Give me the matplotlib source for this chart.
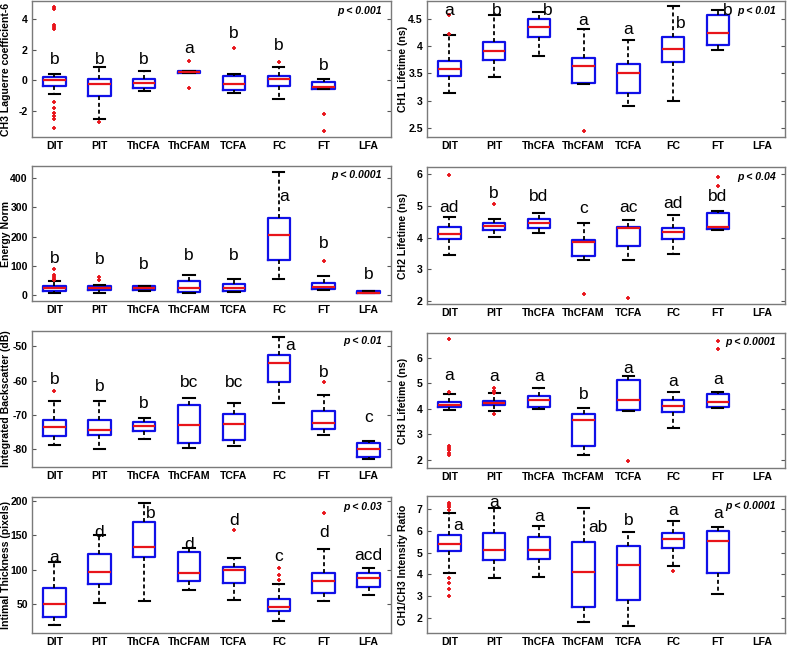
import matplotlib
matplotlib.use("Agg")
import matplotlib.pyplot as plt

plt.rcParams['font.family'] = ['Liberation Sans', 'DejaVu Sans']

categories = ["DIT", "PIT", "ThCFA", "ThCFAM", "TCFA", "FC", "FT", "LFA"]

# ---- Panel 1: CH3 Laguerre coefficient-6 ----
p1_label = "CH3 Laguerre coefficient-6"
p1_p = "p < 0.001"
p1_q1 = [-0.35, -1.0, -0.5, 0.47, -0.65, -0.35, -0.55, None]
p1_med = [0.0, -0.25, -0.15, 0.55, -0.2, 0.1, -0.45, None]
p1_q3 = [0.25, 0.1, 0.1, 0.6, 0.3, 0.3, -0.1, None]
p1_lo = [-0.9, -2.5, -0.7, 0.47, -0.8, -1.2, -0.55, None]
p1_hi = [0.4, 0.85, 0.6, 0.6, 0.45, 0.85, 0.1, None]
p1_fliers = [[4.8, 4.65, 3.6, 3.5, 3.4, -1.4, -1.8, -2.1, -2.35, -2.55, -3.1],
             [-2.7], [], [1.25, -0.5], [2.1], [1.2], [-2.2, -3.3], []]
p1_letters = ["b", "b", "b", "a", "b", "b", "b", ""]
p1_letter_y = [1.4, 1.4, 1.4, 2.1, 3.05, 2.3, 1.0, 0]
p1_letter_dx = [0, 0, 0, 0, 0, 0, 0, 0]
p1_ylim = (-3.7, 5.2)
p1_ticks = [-2, 0, 2, 4]

# ---- Panel 2: CH1 Lifetime (ns) ----
p2_label = "CH1 Lifetime (ns)"
p2_p = "p < 0.01"
p2_q1 = [3.445, 3.75, 4.16, 3.33, 3.14, 3.7, 4.02, None]
p2_med = [3.58, 3.92, 4.36, 3.64, 3.5, 3.95, 4.25, None]
p2_q3 = [3.73, 4.08, 4.49, 3.79, 3.67, 4.17, 4.57, None]
p2_lo = [3.13, 3.44, 3.81, 3.3, 2.9, 3.0, 3.93, None]
p2_hi = [4.2, 4.58, 4.62, 4.31, 4.11, 4.73, 4.67, None]
p2_fliers = [[4.23, 4.57], [], [], [2.44], [], [], [], []]
p2_letters = ["a", "b", "b", "a", "a", "b", "b", ""]
p2_letter_y = [4.66, 4.66, 4.66, 4.48, 4.31, 4.42, 4.66, 0]
p2_letter_dx = [0, 0.05, 0.2, 0, 0, 0.18, 0.22, 0]
p2_ylim = (2.33, 4.83)
p2_ticks = [2.5, 3, 3.5, 4, 4.5]

# ---- Panel 3: Energy Norm ----
p3_label = "Energy Norm"
p3_p = "p < 0.0001"
p3_q1 = [15, 16, 17, 10, 13, 120, 21, 6]
p3_med = [25, 23, 24, 25, 26, 207, 29, 9]
p3_q3 = [32, 31, 30, 49, 37, 263, 40, 13]
p3_lo = [9, 8, 15, 8, 10, 55, 17, 6]
p3_hi = [48, 35, 33, 70, 55, 423, 66, 14]
p3_fliers = [[89, 70, 62, 57, 53], [63, 52], [], [], [], [], [118], []]
p3_letters = ["b", "b", "b", "b", "b", "a", "b", "b"]
p3_letter_y = [126, 122, 105, 137, 137, 337, 177, 69]
p3_letter_dx = [0, 0, 0, 0, 0, 0.11, 0, 0]
p3_ylim = (-20, 442)
p3_ticks = [0, 100, 200, 300, 400]

# ---- Panel 4: CH2 Lifetime (ns) ----
p4_label = "CH2 Lifetime (ns)"
p4_p = "p < 0.04"
p4_q1 = [3.95, 4.24, 4.29, 3.42, 3.73, 3.96, 4.27, None]
p4_med = [4.11, 4.35, 4.45, 3.87, 4.29, 4.19, 4.34, None]
p4_q3 = [4.34, 4.47, 4.58, 3.92, 4.32, 4.31, 4.79, None]
p4_lo = [3.45, 4.03, 4.15, 3.29, 3.29, 3.48, 4.25, None]
p4_hi = [4.64, 4.58, 4.79, 4.47, 4.57, 4.71, 4.85, None]
p4_fliers = [[5.97], [5.06], [], [2.22], [2.1], [], [5.92, 5.63], []]
p4_letters = ["ad", "b", "bd", "c", "ac", "ad", "bd", ""]
p4_letter_y = [4.94, 5.39, 5.31, 4.92, 4.94, 5.08, 5.31, 0]
p4_letter_dx = [0, 0, 0, 0, 0, 0, 0, 0]
p4_ylim = (1.9, 6.23)
p4_ticks = [2, 3, 4, 5, 6]

# ---- Panel 5: Integrated Backscatter (dB) ----
p5_label = "Integrated Backscatter (dB)"
p5_p = "p < 0.01"
p5_q1 = [-76.2, -75.7, -74.5, -78.2, -77.4, -60.3, -74.0, -82.1]
p5_med = [-73.5, -74.3, -73.3, -72.9, -72.7, -54.9, -72.2, -80.0]
p5_q3 = [-71.4, -71.4, -72.1, -67.0, -69.8, -52.6, -68.9, -78.2]
p5_lo = [-78.7, -79.9, -77.0, -79.7, -78.9, -66.5, -75.7, -82.8]
p5_hi = [-65.8, -65.9, -70.8, -65.2, -66.4, -47.3, -64.3, -77.6]
p5_fliers = [[-63.1], [], [], [], [], [], [-60.3], []]
p5_letters = ["b", "b", "b", "bc", "bc", "a", "b", "c"]
p5_letter_y = [-59.8, -61.7, -66.6, -60.5, -60.5, -49.8, -57.6, -70.6]
p5_letter_dx = [0, 0, 0, 0, 0, 0.25, 0, 0]
p5_ylim = (-85.1, -45.6)
p5_ticks = [-80, -70, -60, -50]

# ---- Panel 6: CH3 Lifetime (ns) ----
p6_label = "CH3 Lifetime (ns)"
p6_p = "p < 0.0001"
p6_q1 = [4.05, 4.14, 4.08, 2.52, 3.95, 3.89, 4.08, None]
p6_med = [4.15, 4.24, 4.33, 3.56, 4.35, 4.11, 4.28, None]
p6_q3 = [4.27, 4.32, 4.5, 3.8, 5.13, 4.35, 4.58, None]
p6_lo = [3.95, 3.93, 3.98, 2.17, 3.93, 3.26, 4.02, None]
p6_hi = [4.58, 4.61, 4.8, 4.02, 5.28, 4.67, 4.67, None]
p6_fliers = [[6.76, 4.67, 2.55, 2.46, 2.37, 2.26, 2.17],
             [4.8, 4.71, 4.63, 3.8], [], [], [1.93], [], [6.66, 6.36], []]
p6_letters = ["a", "a", "a", "b", "a", "a", "a", ""]
p6_letter_y = [5.32, 5.26, 5.26, 4.58, 5.6, 5.09, 5.17, 0]
p6_letter_dx = [0, 0, 0, 0, 0, 0, 0, 0]
p6_ylim = (1.67, 6.98)
p6_ticks = [2, 3, 4, 5, 6]

# ---- Panel 7: Intimal Thickness (pixels) ----
p7_label = "Intimal Thickness (pixels)"
p7_p = "p < 0.03"
p7_q1 = [32, 79, 119, 84, 81, 39.5, 66, 75.5]
p7_med = [50.5, 97, 133, 96, 100, 46, 83, 88.5]
p7_q3 = [73, 123, 169, 126, 103.5, 57, 95, 96]
p7_lo = [19, 51, 55, 70, 56, 25, 55, 63.5]
p7_hi = [112, 150, 197, 132, 117.5, 79, 131, 102]
p7_fliers = [[], [], [], [], [158], [102, 92.5, 85], [182.6], []]
p7_letters = ["a", "d", "b", "d", "d", "c", "d", "acd"]
p7_letter_y = [118, 154, 182, 137, 172, 120, 155, 121]
p7_letter_dx = [0, 0, 0.14, 0, 0, 0, 0, 0]
p7_ylim = (8, 206)
p7_ticks = [50, 100, 150, 200]

# ---- Panel 8: CH1/CH3 Intensity Ratio ----
p8_label = "CH1/CH3 Intensity Ratio"
p8_p = "p < 0.0001"
p8_q1 = [5.08, 4.65, 4.7, 2.52, 2.85, 5.19, 4.05, None]
p8_med = [5.41, 5.11, 5.11, 4.13, 4.42, 5.64, 5.54, None]
p8_q3 = [5.8, 5.87, 5.69, 5.48, 5.29, 5.9, 6.0, None]
p8_lo = [4.07, 3.84, 3.89, 1.83, 1.63, 4.38, 3.1, None]
p8_hi = [6.79, 7.03, 6.22, 7.05, 5.92, 6.45, 6.18, None]
p8_fliers = [[7.27, 7.17, 7.06, 6.95, 3.86, 3.62, 3.36, 3.02], [], [], [], [], [4.15], [], []]
p8_letters = ["a", "a", "a", "ab", "b", "a", "a", ""]
p8_letter_y = [6.25, 7.3, 6.66, 6.13, 6.44, 6.94, 6.79, 0]
p8_letter_dx = [0.2, 0, 0, 0.32, 0, 0, 0, 0]
p8_ylim = (1.33, 7.58)
p8_ticks = [2, 3, 4, 5, 6, 7]

panels = [
    (p1_label, p1_p, p1_q1, p1_med, p1_q3, p1_lo, p1_hi, p1_fliers, p1_letters, p1_letter_y, p1_letter_dx, p1_ylim, p1_ticks),
    (p2_label, p2_p, p2_q1, p2_med, p2_q3, p2_lo, p2_hi, p2_fliers, p2_letters, p2_letter_y, p2_letter_dx, p2_ylim, p2_ticks),
    (p3_label, p3_p, p3_q1, p3_med, p3_q3, p3_lo, p3_hi, p3_fliers, p3_letters, p3_letter_y, p3_letter_dx, p3_ylim, p3_ticks),
    (p4_label, p4_p, p4_q1, p4_med, p4_q3, p4_lo, p4_hi, p4_fliers, p4_letters, p4_letter_y, p4_letter_dx, p4_ylim, p4_ticks),
    (p5_label, p5_p, p5_q1, p5_med, p5_q3, p5_lo, p5_hi, p5_fliers, p5_letters, p5_letter_y, p5_letter_dx, p5_ylim, p5_ticks),
    (p6_label, p6_p, p6_q1, p6_med, p6_q3, p6_lo, p6_hi, p6_fliers, p6_letters, p6_letter_y, p6_letter_dx, p6_ylim, p6_ticks),
    (p7_label, p7_p, p7_q1, p7_med, p7_q3, p7_lo, p7_hi, p7_fliers, p7_letters, p7_letter_y, p7_letter_dx, p7_ylim, p7_ticks),
    (p8_label, p8_p, p8_q1, p8_med, p8_q3, p8_lo, p8_hi, p8_fliers, p8_letters, p8_letter_y, p8_letter_dx, p8_ylim, p8_ticks),
]

W, H = 787, 646
# axes rectangles in pixels: (x0, y_top, x1, y_bottom)
rects = [
    (32, 1, 391, 137), (427, 1, 785, 137),
    (32, 166, 391, 301), (427, 167, 785, 304),
    (32, 331, 391, 467), (427, 333, 785, 468),
    (32, 497, 391, 633), (427, 496, 785, 633),
]
# right edge of the (rotated) y-label, in pixels from the left of the figure
label_x = [11, 408, 11, 408, 11, 408, 11, 408]

fig = plt.figure(figsize=(W / 100, H / 100), dpi=100)
fig.patch.set_facecolor("white")

frame_col = "#7a7a7a"

for k, ((label, ptxt, q1, med, q3, lo, hi, fl, letters, ly, ldx, ylim, ticks), (x0, yt, x1, yb)) in enumerate(zip(panels, rects)):
    ax = fig.add_axes([x0 / W, 1 - yb / H, (x1 - x0) / W, (yb - yt) / H])
    stats = []
    positions = []
    for i in range(len(categories)):
        if q1[i] is None:
            continue
        stats.append(dict(med=med[i], q1=q1[i], q3=q3[i], whislo=lo[i], whishi=hi[i], fliers=fl[i]))
        positions.append(i + 1)
    ax.bxp(stats, positions=positions, widths=0.5, showfliers=True,
           boxprops=dict(color="#1010e8", linewidth=1.6),
           medianprops=dict(color="#e8141a", linewidth=1.6),
           whiskerprops=dict(color="black", linewidth=1.3, linestyle=(0, (2.2, 1.6))),
           capprops=dict(color="black", linewidth=1.5),
           flierprops=dict(marker="+", markersize=3.0, markeredgewidth=1.3,
                           markeredgecolor="#e8141a", linestyle="none"))
    ax.set_xlim(0.5, 8.5)
    ax.set_ylim(*ylim)
    ax.set_xticks(range(1, len(categories) + 1))
    ax.set_xticklabels(categories, fontsize=7.6, fontweight="bold")
    ax.set_yticks(ticks)
    ax.set_yticklabels([("%g" % t) for t in ticks], fontsize=7.6, fontweight="bold")
    ax.tick_params(axis="x", length=0, pad=3)
    ax.tick_params(axis="y", direction="in", length=3, width=0.8, color="#555555",
                   right=True, labelright=False, pad=3)
    ax.set_ylabel(label, fontsize=7.6, fontweight="bold")
    ax.yaxis.set_label_coords((label_x[k] - x0) / (x1 - x0), 0.5)
    for s in ax.spines.values():
        s.set_color(frame_col)
        s.set_linewidth(1.0)
    for i, (t, y, dx) in enumerate(zip(letters, ly, ldx)):
        if t:
            ax.text(i + 1 + dx, y, t, ha="center", va="center", fontsize=12.5)
    ax.text(0.975, 0.93, ptxt, transform=ax.transAxes, ha="right", va="center",
            fontsize=7.6, fontweight="bold", fontstyle="italic")

fig.savefig("out.png", dpi=100, facecolor="white")
